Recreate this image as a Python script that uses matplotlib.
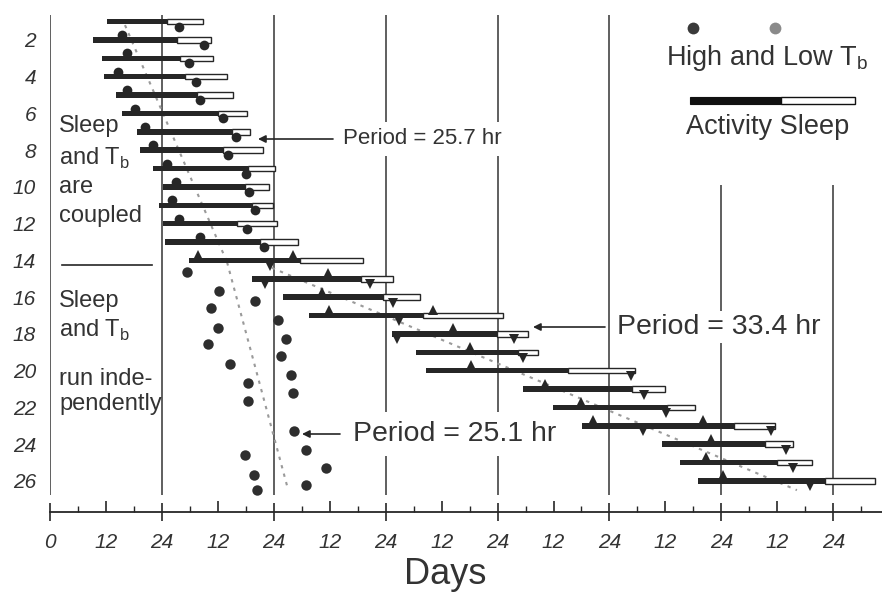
import matplotlib
matplotlib.use("Agg")
import matplotlib.pyplot as plt
from matplotlib.patches import Rectangle
from matplotlib.lines import Line2D
import numpy as np

plt.rcParams["font.family"] = ["Liberation Sans", "DejaVu Sans"]

# ---------------- data (hours on x, day/row number on y) ----------------
rows = list(range(1, 27))
activity_start = [12.2, 9.2, 11.2, 11.6, 14.2, 15.5, 18.7, 19.3, 22.1, 24.3, 23.4, 24.3, 24.7,
                  29.8, 43.3, 50.0, 55.6, 73.4, 78.5, 80.6, 101.5, 107.9, 114.1, 131.3, 135.1, 139.0]
sleep_start = [25.1, 27.3, 27.9, 29.0, 31.5, 36.0, 39.0, 37.1, 42.5, 41.8, 43.3, 40.1, 45.1,
               53.6, 66.7, 71.4, 80.0, 95.9, 100.4, 111.1, 124.8, 132.3, 146.7, 153.4, 155.9, 166.2]
sleep_end = [32.8, 34.5, 35.0, 38.0, 39.2, 42.3, 42.9, 45.7, 48.3, 47.0, 47.8, 48.7, 53.2,
             67.1, 73.6, 79.4, 97.2, 102.5, 104.7, 125.5, 131.9, 138.3, 155.5, 159.4, 163.4, 176.9]

high_rows = [2, 3, 4, 5, 6, 7, 8, 9, 10, 11, 12, 13, 14, 14, 15, 16, 17, 17, 18, 19, 20, 21,
             22, 23, 23, 24, 25, 26]
high_hours = [15.5, 16.5, 14.6, 16.5, 18.2, 20.4, 22.1, 25.1, 27.0, 26.2, 27.7, 32.2, 31.8, 52.1,
              59.6, 58.4, 59.8, 82.2, 86.4, 90.1, 90.3, 106.2, 113.9, 116.5, 140.1, 141.8, 140.7, 144.4]

low_rows = [1, 2, 3, 4, 5, 6, 7, 8, 9, 10, 11, 12, 13, 14, 15, 15, 16, 17, 18, 18, 19, 20, 21,
            22, 23, 23, 24, 25, 26]
low_hours = [27.7, 33.0, 29.8, 31.3, 32.2, 37.1, 39.9, 38.2, 42.1, 42.7, 44.0, 42.3, 45.9, 47.2,
             46.1, 68.6, 73.6, 74.9, 74.4, 99.5, 101.5, 124.6, 127.4, 132.1, 127.2, 154.6, 157.9,
             159.4, 163.0]

free_rows = [14.63, 15.66, 16.2, 16.59, 17.24, 17.68, 18.27, 18.55, 19.2, 19.63, 20.23, 20.67,
             21.21, 21.65, 23.28, 24.31, 24.58, 25.29, 25.67, 26.2, 26.47]
free_hours = [29.4, 36.3, 44.0, 34.5, 48.9, 36.1, 50.6, 33.9, 49.6, 38.6, 51.7, 42.5, 52.1, 42.5,
              52.3, 54.9, 41.8, 59.2, 43.8, 54.9, 44.4]

fit_257_hours = [16.1, 38.0]
fit_257_rows = [1.19, 14.1]
fit_251_hours = [38.0, 50.9]
fit_251_rows = [14.1, 26.3]
fit_334_hours = [47.6, 160.2]
fit_334_rows = [14.4, 26.5]

day_lines = [0, 24, 48, 72, 96, 120, 144, 168]
xtick_major = [0, 24, 48, 72, 96, 120, 144, 168]
xtick_major_labels = ["0", "24", "24", "24", "24", "24", "24", "24"]
xtick_half = [12, 36, 60, 84, 108, 132, 156]
xtick_half_labels = ["12"] * 7
xtick_small = [6, 18, 30, 42, 54, 66, 78, 90, 102, 114, 126, 138, 150, 162, 174]
ytick_pos = list(range(2, 27, 2))
ytick_labels = [str(v) for v in ytick_pos]

# ---------------- figure ----------------
W, H = 882, 593
fig = plt.figure(figsize=(W / 100, H / 100), dpi=100)
fig.patch.set_facecolor("white")


def P(x, y):
    return (x / W, 1 - y / H)


ink = "#262626"
txt = "#333333"

left_px, right_px, top_px, bot_px = 49.9, 882, 15, 512
ax = fig.add_axes([left_px / W, 1 - bot_px / H, (right_px - left_px) / W, (bot_px - top_px) / H])
ax.set_xlim(0, (right_px - left_px) / 4.663)
ax.set_ylim(1 + (bot_px - 21.6) / 18.375, 1 + (top_px - 21.6) / 18.375)
for s in ["left", "top", "right"]:
    ax.spines[s].set_visible(False)
ax.spines["bottom"].set_color(ink)
ax.spines["bottom"].set_linewidth(1.3)

# vertical day lines
row_bottom = 1 + (495 - 21.6) / 18.375
row_top = 1 + (top_px - 21.6) / 18.375
row_top_late = 1 + (185 - 21.6) / 18.375
for d in day_lines:
    ax.vlines(d, row_top if d <= 120 else row_top_late, row_bottom, color="#444444", lw=1.2, zorder=1)

# regression (dotted) lines
dot_style = dict(linestyle=(0, (1.6, 2.6)), color="#9a9a9a", lw=1.5, zorder=2)
ax.plot(fit_257_hours, fit_257_rows, **dot_style)
ax.plot(fit_251_hours, fit_251_rows, **dot_style)
ax.plot(fit_334_hours, fit_334_rows, **dot_style)

# activity (black) and sleep (white) bars
act_w = [s - a for a, s in zip(activity_start, sleep_start)]
slp_w = [e - s for s, e in zip(sleep_start, sleep_end)]
ax.barh(rows, act_w, left=activity_start, height=0.3, color=ink, zorder=3)
ax.barh(rows, slp_w, left=sleep_start, height=0.3, facecolor="white", edgecolor=ink,
        linewidth=1.0, zorder=3)

# Tb markers on the bars
for r, h in zip(high_rows, high_hours):
    if r <= 13:
        ax.plot(h, r - 0.27, "o", ms=7, color=ink, mew=0, zorder=4)
    else:
        ax.plot(h, r - 0.3, "^", ms=7.5, color=ink, mew=0, zorder=4)
for r, h in zip(low_rows, low_hours):
    if r <= 13:
        ax.plot(h, r + 0.27, "o", ms=7, color=ink, mew=0, zorder=4)
    else:
        ax.plot(h, r + 0.3, "v", ms=7.5, color=ink, mew=0, zorder=4)

# free-running Tb dots
ax.plot(free_hours, free_rows, "o", ms=7.5, color="#2e2e2e", mew=0, ls="none", zorder=4)

# ---------------- ticks ----------------
ax.set_xticks(xtick_major, xtick_major_labels)
ax.set_xticks(xtick_half, xtick_half_labels, minor=True)
ax.tick_params(axis="x", which="major", direction="inout", length=13, width=1.2, color=ink,
               pad=8.5, labelsize=15, labelcolor=txt)
ax.tick_params(axis="x", which="minor", direction="in", length=8, width=1.2, color=ink,
               pad=15, labelsize=15, labelcolor=txt)
sec = ax.secondary_xaxis("bottom")
sec.set_xticks(xtick_small)
sec.tick_params(direction="in", length=4.3, width=1.0, color=ink, labelbottom=False)
sec.spines["bottom"].set_visible(False)

ax.set_yticks(ytick_pos, ytick_labels)
ax.tick_params(axis="y", length=0, pad=10, labelsize=15, labelcolor=txt)
for lab in ax.get_xticklabels(which="both") + ax.get_yticklabels():
    lab.set_fontstyle("italic")

# ---------------- annotations ----------------
box = dict(facecolor="white", edgecolor="none", boxstyle="square,pad=0.3")
box_tight = dict(facecolor="white", edgecolor="none", boxstyle="square,pad=0.12")
fig.text(*P(343, 139), "Period = 25.7 hr", fontsize=16, color=txt, va="center", ha="left",
         bbox=box, zorder=5)
fig.text(*P(617, 327), "Period = 33.4 hr", fontsize=20.5, color=txt, va="center", ha="left",
         bbox=box_tight, zorder=5)
fig.text(*P(353, 434), "Period = 25.1 hr", fontsize=20.5, color=txt, va="center", ha="left",
         bbox=box, zorder=5)

arrow = dict(arrowstyle="-|>", color=ink, lw=1.2, mutation_scale=11, shrinkA=0, shrinkB=0)
fig.add_artist(plt.Annotation("", xy=P(258, 139), xycoords="figure fraction",
                              xytext=P(333, 139), textcoords="figure fraction", arrowprops=arrow))
fig.add_artist(plt.Annotation("", xy=P(533, 327), xycoords="figure fraction",
                              xytext=P(605, 327), textcoords="figure fraction", arrowprops=arrow))
fig.add_artist(plt.Annotation("", xy=P(302, 434), xycoords="figure fraction",
                              xytext=P(340, 434), textcoords="figure fraction", arrowprops=arrow))

# left-side notes
for s, y in [("Sleep", 132), ("and T$_\\mathregular{b}$", 165), ("are", 193), ("coupled", 222)]:
    fig.text(*P(59, y), s, fontsize=17, color=txt, va="baseline", ha="left")
fig.add_artist(Line2D([62 / W, 152 / W], [1 - 265 / H, 1 - 265 / H], color=ink, lw=1.2))
for s, y in [("Sleep", 307), ("and T$_\\mathregular{b}$", 337), ("run inde-", 385),
             ("pendently", 410)]:
    fig.text(*P(59, y), s, fontsize=17, color=txt, va="baseline", ha="left")

# legend (top right)
fig.add_artist(Line2D([693 / W], [1 - 28 / H], marker="o", ms=8.5, color="#3a3a3a", mew=0))
fig.add_artist(Line2D([775 / W], [1 - 28 / H], marker="o", ms=8.5, color="#8a8a8a", mew=0))
fig.text(*P(666, 58), "High and Low T$_\\mathregular{b}$", fontsize=19.5, color=txt,
         va="center", ha="left")
fig.add_artist(Rectangle(P(690, 104), (781 - 690) / W, 7 / H, facecolor="#111111",
                         edgecolor="#111111", lw=0.8, transform=fig.transFigure))
fig.add_artist(Rectangle(P(781, 104), (855 - 781) / W, 7 / H, facecolor="white",
                         edgecolor="#111111", lw=1.0, transform=fig.transFigure))
fig.text(*P(686, 127), "Activity Sleep", fontsize=19.5, color=txt, va="center", ha="left")

fig.text(*P(445, 584), "Days", fontsize=26, color=txt, va="baseline", ha="center")

fig.savefig("out.png", dpi=100, facecolor="white")
